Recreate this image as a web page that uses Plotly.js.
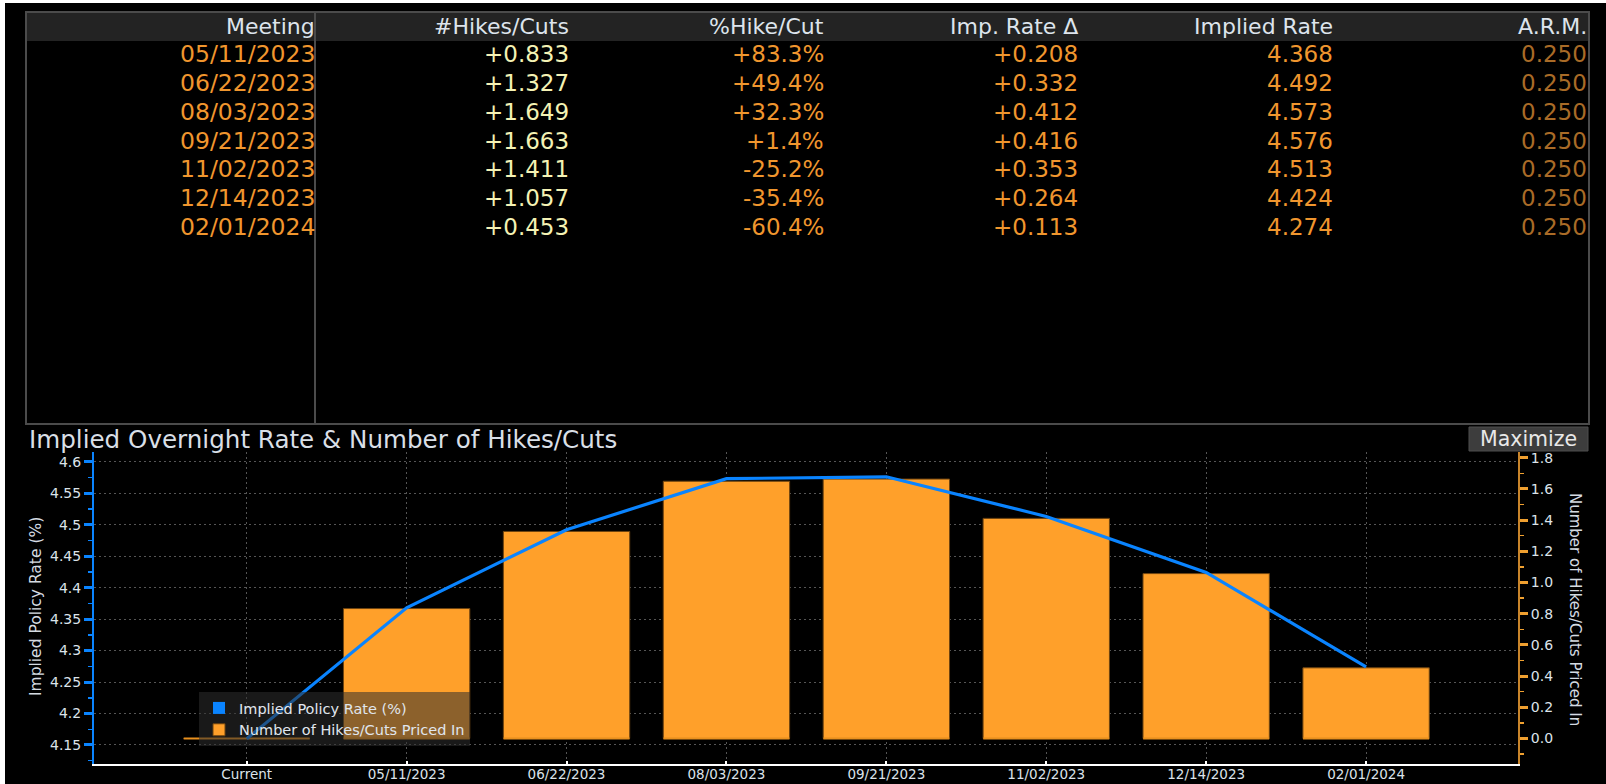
<!DOCTYPE html>
<html>
<head>
<meta charset="utf-8">
<script src="https://cdn.plot.ly/plotly-3.0.1.min.js"></script>
<style>
html,body{margin:0;padding:0;background:#000;overflow:hidden;}
#chart{width:1606px;height:784px;}
</style>
</head>
<body>
<div id="chart"></div>
<script>
// ---------------- Data ----------------
const tableHeaders = ['Meeting', '#Hikes/Cuts', '%Hike/Cut', 'Imp. Rate \u0394', 'Implied Rate', 'A.R.M.'];
const meetings = ['05/11/2023', '06/22/2023', '08/03/2023', '09/21/2023', '11/02/2023', '12/14/2023', '02/01/2024'];
const hikesCuts = [0.833, 1.327, 1.649, 1.663, 1.411, 1.057, 0.453];
const pctHikeCut = [83.3, 49.4, 32.3, 1.4, -25.2, -35.4, -60.4];
const impRateDelta = [0.208, 0.332, 0.412, 0.416, 0.353, 0.264, 0.113];
const impliedRate = [4.368, 4.492, 4.573, 4.576, 4.513, 4.424, 4.274];
const arm = [0.250, 0.250, 0.250, 0.250, 0.250, 0.250, 0.250];

const chartCategories = ['Current', '05/11/2023', '06/22/2023', '08/03/2023', '09/21/2023', '11/02/2023', '12/14/2023', '02/01/2024'];
const impliedPolicyRate = [4.160, 4.368, 4.492, 4.573, 4.576, 4.513, 4.424, 4.274];
const hikesPricedIn = [0.000, 0.833, 1.327, 1.649, 1.663, 1.411, 1.057, 0.453];

// ---------------- Layout helpers ----------------
const W = 1606, H = 784;
const px = x => x / W;
const py = y => 1 - y / H;
const FONT = 'DejaVu Sans';

const signed = (v, d) => (v >= 0 ? '+' : '') + v.toFixed(d);
const tableColumns = [
  meetings,
  hikesCuts.map(v => signed(v, 3)),
  pctHikeCut.map(v => signed(v, 1) + '%'),
  impRateDelta.map(v => signed(v, 3)),
  impliedRate.map(v => v.toFixed(3)),
  arm.map(v => v.toFixed(3))
];
const columnColors = ['#f0962e', '#f4f2b4', '#f0962e', '#f0962e', '#f0962e', '#a96b27'];
const columnRight = [317, 571, 826, 1080, 1335, 1589];
const headerY = 26.5, rowY0 = 54.5, rowStep = 28.7;

const annotations = [];
tableHeaders.forEach((h, c) => {
  annotations.push({xref:'paper', yref:'paper', x:px(columnRight[c]), y:py(headerY), xanchor:'right', yanchor:'middle',
    text:h, showarrow:false, font:{family:FONT, size:22, color:'#dde4ec'}});
});
tableColumns.forEach((col, c) => {
  col.forEach((t, r) => {
    annotations.push({xref:'paper', yref:'paper', x:px(columnRight[c]), y:py(rowY0 + r*rowStep), xanchor:'right', yanchor:'middle',
      text:t, showarrow:false, font:{family:FONT, size:c === 0 ? 23.5 : 23, color:columnColors[c]}});
  });
});
// chart title
annotations.push({xref:'paper', yref:'paper', x:px(27), y:py(439), xanchor:'left', yanchor:'middle',
  text:'Implied Overnight Rate &amp; Number of Hikes/Cuts', showarrow:false, font:{family:FONT, size:24.6, color:'#d9dfe6'}});
// Maximize button label
annotations.push({xref:'paper', yref:'paper', x:px(1528), y:py(439), xanchor:'center', yanchor:'middle',
  text:'Maximize', showarrow:false, font:{family:FONT, size:20.5, color:'#e8e8e8'}});
// axis titles
annotations.push({xref:'paper', yref:'paper', x:px(36), y:py(607), xanchor:'center', yanchor:'middle', textangle:-90,
  text:'Implied Policy Rate (%)', showarrow:false, font:{family:FONT, size:15.5, color:'#d5dbe2'}});
annotations.push({xref:'paper', yref:'paper', x:px(1575), y:py(609), xanchor:'center', yanchor:'middle', textangle:90,
  text:'Number of Hikes/Cuts Priced In', showarrow:false, font:{family:FONT, size:15, color:'#d5dbe2'}});

const shapes = [
  // white strips of the screenshot frame
  {type:'rect', xref:'paper', yref:'paper', x0:0, x1:px(5), y0:0, y1:1, fillcolor:'#ffffff', line:{width:0}, layer:'above'},
  {type:'rect', xref:'paper', yref:'paper', x0:0, x1:1, y0:py(3), y1:1, fillcolor:'#ffffff', line:{width:0}, layer:'above'},
  // table header band
  {type:'rect', xref:'paper', yref:'paper', x0:px(26), x1:px(1589), y0:py(41), y1:py(12), fillcolor:'#232323', line:{width:0}, layer:'below'},
  // table frame
  {type:'rect', xref:'paper', yref:'paper', x0:px(26), x1:px(1589), y0:py(424), y1:py(12), fillcolor:'rgba(0,0,0,0)', line:{color:'#4b4b4b', width:2}, layer:'above'},
  {type:'line', xref:'paper', yref:'paper', x0:px(315), x1:px(315), y0:py(424), y1:py(12), line:{color:'#4b4b4b', width:2}, layer:'above'},
  // Maximize button
  {type:'rect', xref:'paper', yref:'paper', x0:px(1469), x1:px(1588), y0:py(451), y1:py(427), fillcolor:'#3d3d3d', line:{color:'#4e4e4e', width:1}, layer:'below'}
];

// ---------------- Traces ----------------
const barTrace = {
  type:'bar', name:'Number of Hikes/Cuts Priced In', x:chartCategories, y:hikesPricedIn,
  xaxis:'x', yaxis:'y', width:0.79,
  marker:{color:'#ffa02a', line:{color:'#6e4410', width:1}},
  legendrank:2, hoverinfo:'skip'
};
const baseTrace = {
  type:'scatter', mode:'markers', x:chartCategories, y:chartCategories.map(() => 0),
  xaxis:'x', yaxis:'y', showlegend:false, hoverinfo:'skip', cliponaxis:false,
  marker:{symbol:'line-ew', size:90, color:'#e8901e', line:{color:'#e8901e', width:2}}
};
const lineTrace = {
  type:'scatter', mode:'lines', name:'Implied Policy Rate (%)', x:chartCategories, y:impliedPolicyRate,
  xaxis:'x', yaxis:'y2', line:{color:'#0a84ff', width:3.2}, showlegend:false, hoverinfo:'skip'
};
const legendKey = {
  type:'bar', name:'Implied Policy Rate (%)', x:[chartCategories[0]], y:[null],
  xaxis:'x', yaxis:'y2', marker:{color:'#0a84ff'}, legendrank:1, hoverinfo:'skip'
};

const gridDash = '2px,3px';
const layout = {
  width:W, height:H,
  margin:{l:0, r:0, t:0, b:0},
  paper_bgcolor:'#000000', plot_bgcolor:'#000000',
  font:{family:FONT, size:14, color:'#dce3ea'},
  barmode:'overlay',
  showlegend:true,
  legend:{x:px(199), y:py(692), xanchor:'left', yanchor:'top', bgcolor:'rgba(45,45,45,0.55)', borderwidth:0,
    font:{family:FONT, size:14.5, color:'#e0e6ee'}, itemwidth:30, traceorder:'normal'},
  xaxis:{
    domain:[px(94), px(1518)], anchor:'y', type:'category', range:[-0.955, 7.95],
    showgrid:true, gridcolor:'#555555', gridwidth:1, griddash:gridDash,
    showline:true, linecolor:'#ffffff', linewidth:2, zeroline:false,
    ticks:'inside', ticklen:3, tickwidth:2, tickcolor:'#ffffff', ticklabelstandoff:-3,
    tickfont:{family:FONT, size:13.5, color:'#dce3ea'}, fixedrange:true
  },
  yaxis:{
    domain:[(H-764)/H, (H-452)/H], anchor:'x', side:'right', range:[-0.1635, 1.8365],
    tick0:0, dtick:0.2, tickformat:'.1f', showgrid:false, zeroline:false,
    showline:true, linecolor:'#c8842a', linewidth:2,
    ticks:'outside', ticklen:8, tickwidth:3, tickcolor:'#f0a030',
    minor:{dtick:0.1, tick0:0, ticks:'outside', ticklen:4, tickwidth:1.5, tickcolor:'#f0a030', showgrid:false},
    tickfont:{family:FONT, size:14, color:'#dce3ea'}, fixedrange:true
  },
  yaxis2:{
    overlaying:'y', anchor:'x', side:'left', range:[4.1198, 4.6154],
    tick0:4.15, dtick:0.05, showgrid:true, gridcolor:'#555555', gridwidth:1, griddash:gridDash, zeroline:false,
    showline:true, linecolor:'#0a84ff', linewidth:2,
    ticks:'outside', ticklen:8, tickwidth:3, tickcolor:'#0a84ff',
    minor:{dtick:0.025, tick0:4.15, ticks:'outside', ticklen:4, tickwidth:1.5, tickcolor:'#0a84ff', showgrid:false},
    tickfont:{family:FONT, size:14, color:'#dce3ea'}, fixedrange:true
  },
  shapes:shapes,
  annotations:annotations
};

Plotly.newPlot('chart', [barTrace, baseTrace, lineTrace, legendKey], layout, {staticPlot:true, displayModeBar:false});
</script>
</body>
</html>
